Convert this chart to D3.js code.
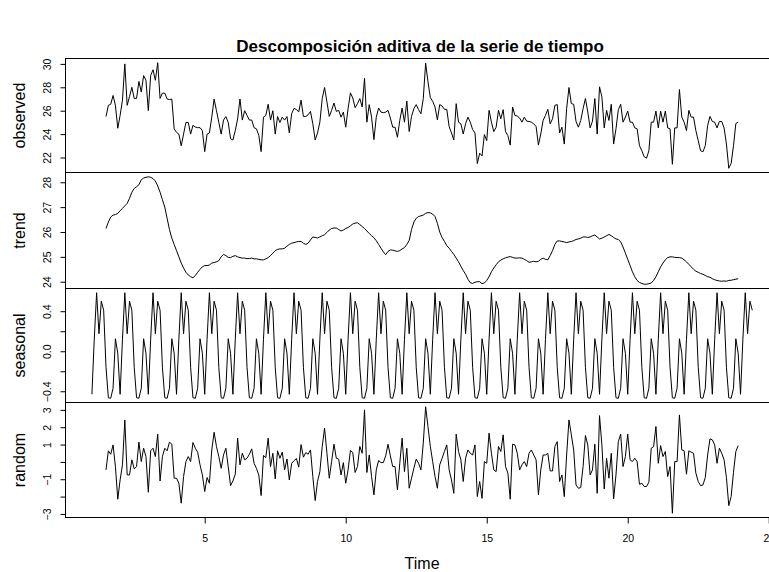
<!DOCTYPE html>
<html>
<head>
<meta charset="utf-8">
<script src="https://cdn.jsdelivr.net/npm/d3@7"></script>
<style>
  html, body { margin: 0; padding: 0; background: #fff; overflow: hidden; }
  svg { display: block; }
  text { font-family: "Liberation Sans", Arial, Helvetica, sans-serif; fill: #000; }
</style>
</head>
<body>
<svg id="chart" width="769" height="572"></svg>
<script>
// Monthly series: starts at time 1, 282 observations (ends at 24 + 5/12).
const seriesStart = 1;
const frequency = 12;
const seriesLength = 282;
// Trend (centred 2x12 moving average), and hence observed/random, start 6 months in.
const componentStart = 1.5;

// Seasonal figure, January..December
const seasonalFigure = [-0.43, 0.12, 0.585, 0.175, 0.50, 0.41, -0.16, -0.465, -0.47, -0.37, 0.125, -0.02];

const observed = [
  25.5, 26.46, 26.55, 27.3, 26.46, 24.5, 25.6, 26.9, 30.0, 26.46, 27.2, 28.0,
  27.05, 27.05, 28.5, 27.6, 29.0, 28.6, 26.0, 29.0, 29.5, 28.6, 30.1, 27.05,
  27.5, 27.5, 27.0, 26.95, 27.0, 24.45, 24.15, 24.0, 23.0, 24.0, 25.0, 25.0,
  24.0, 24.75, 24.6, 24.55, 24.55, 24.3, 22.5, 24.0, 24.1, 25.45, 27.0, 26.0,
  25.0, 24.0, 25.2, 25.5, 25.0, 23.6, 23.5, 24.3, 25.3, 27.0, 25.2, 26.0,
  25.6, 25.2, 25.2, 24.55, 24.45, 23.9, 22.5, 25.45, 25.6, 26.55, 25.2, 26.0,
  24.0, 25.5, 25.0, 25.45, 25.2, 25.5, 24.1, 25.75, 26.2, 26.1, 25.9, 26.9,
  25.51, 25.51, 25.65, 25.94, 24.88, 23.5, 24.1, 25.02, 27.04, 27.98, 26.75, 25.51,
  26.03, 26.66, 25.94, 26.03, 25.45, 25.88, 24.59, 26.17, 27.52, 27.09, 26.26, 26.6,
  27.04, 26.32, 28.76, 25.02, 26.52, 25.45, 23.53, 25.45, 26.23, 25.88, 25.83, 25.88,
  26.03, 25.37, 24.59, 24.59, 23.73, 25.17, 26.23, 25.02, 26.83, 24.22, 25.51, 26.17,
  26.52, 26.09, 25.74, 27.04, 30.06, 28.47, 27.12, 26.8, 26.32, 25.22, 26.52, 26.4,
  26.12, 26.12, 24.65, 24.1, 23.5, 26.6, 25.02, 24.88, 24.01, 24.88, 25.45, 25.02,
  24.39, 24.1, 21.48, 22.37, 22.14, 23.96, 23.44, 26.03, 25.02, 24.22, 24.59, 26.03,
  25.31, 26.09, 24.22, 23.87, 23.06, 26.32, 25.6, 25.54, 25.37, 25.02, 25.45, 25.11,
  25.08, 25.02, 24.88, 24.65, 23.06, 24.01, 25.17, 25.6, 26.12, 24.88, 25.31, 26.46,
  26.52, 24.1, 24.59, 23.15, 26.17, 27.98, 26.61, 26.55, 25.08, 24.59, 25.17, 26.17,
  27.04, 25.89, 24.53, 25.11, 27.04, 24.0, 28.04, 27.18, 24.53, 26.03, 25.17, 26.55,
  23.15, 24.45, 26.09, 26.55, 25.02, 25.45, 25.97, 25.02, 25.02, 24.53, 24.45, 23.01,
  22.58, 22.06, 21.94, 22.58, 25.02, 25.02, 25.97, 24.53, 25.97, 25.02, 25.97, 24.53,
  24.45, 21.42, 24.53, 24.53, 27.81, 25.45, 25.02, 24.3, 26.03, 25.45, 25.45, 24.3,
  23.44, 22.58, 22.49, 23.01, 24.74, 25.51, 25.08, 25.02, 24.53, 25.08, 25.08, 24.53,
  23.15, 21.08, 21.5, 23.0, 24.9, 25.02
];

const trend = [
  26.14, 26.4, 26.6, 26.68, 26.7, 26.75, 26.85, 26.95, 27.05, 27.15, 27.35, 27.6,
  27.75, 27.82, 27.9, 28.1, 28.17, 28.2, 28.22, 28.2, 28.15, 28.05, 27.85, 27.6,
  27.3, 27.0, 26.55, 26.1, 25.75, 25.5, 25.25, 25.0, 24.75, 24.55, 24.38, 24.27,
  24.2, 24.16, 24.25, 24.38, 24.5, 24.6, 24.65, 24.65, 24.67, 24.75, 24.77, 24.8,
  24.85, 25.0, 25.1, 25.05, 24.98, 24.97, 25.02, 25.05, 25.0, 24.97, 24.95, 24.95,
  24.93, 24.93, 24.95, 24.92, 24.92, 24.9, 24.88, 24.88, 24.92, 24.97, 25.05, 25.15,
  25.25, 25.3, 25.32, 25.32, 25.35, 25.43, 25.5, 25.55, 25.57, 25.6, 25.62, 25.62,
  25.55, 25.5, 25.55, 25.68, 25.8, 25.78, 25.76, 25.8, 25.85, 25.89, 25.98, 26.08,
  26.14, 26.16, 26.16, 26.1, 26.04, 26.08, 26.14, 26.18, 26.25, 26.32, 26.36, 26.37,
  26.3, 26.22, 26.14, 26.04, 25.94, 25.85, 25.77, 25.65, 25.5, 25.35, 25.2, 25.09,
  25.22, 25.28, 25.27, 25.24, 25.22, 25.25, 25.32, 25.37, 25.5, 25.66, 26.1, 26.4,
  26.55, 26.62, 26.65, 26.68, 26.75, 26.78, 26.77, 26.72, 26.62, 26.35, 26.0, 25.78,
  25.62, 25.45, 25.35, 25.22, 25.1, 24.95, 24.8, 24.62, 24.45, 24.3, 24.1, 23.96,
  23.93, 23.98, 24.0, 24.0, 23.92, 23.95, 24.05, 24.2, 24.4, 24.55, 24.68, 24.8,
  24.87, 24.92, 24.96, 24.99, 25.01, 24.98, 24.95, 24.95, 24.96, 24.95, 24.9, 24.85,
  24.78, 24.8, 24.82, 24.8, 24.82, 24.9, 24.95, 24.9, 24.88, 25.05, 25.25, 25.5,
  25.64, 25.64, 25.62, 25.6, 25.57, 25.6, 25.62, 25.65, 25.7, 25.72, 25.75, 25.8,
  25.8, 25.78, 25.8, 25.85, 25.88, 25.8, 25.72, 25.75, 25.8, 25.85, 25.9, 25.85,
  25.78, 25.72, 25.7, 25.6, 25.4, 25.15, 24.9, 24.65, 24.4, 24.2, 24.05, 23.97,
  23.93, 23.9, 23.9, 23.92, 23.95, 24.05, 24.2, 24.4, 24.6, 24.75, 24.88, 24.97,
  25.0, 25.0, 24.98, 24.97, 24.97, 24.95, 24.88, 24.8, 24.7, 24.6, 24.5, 24.42,
  24.38, 24.33, 24.3, 24.25, 24.2, 24.18, 24.12, 24.08, 24.05, 24.03, 24.02, 24.03,
  24.02, 24.05, 24.06, 24.08, 24.1, 24.12
];

const random = [
  -0.46, 0.64, 0.44, 0.98, -0.27, -2.15, -1.04, -0.17, 2.42, -0.75, -0.75, 0.12,
  -0.4, -0.27, 1.14, 0.02, 0.79, 0.31, -1.75, 0.64, 0.79, 0.31, 1.6, -1.1,
  0.31, 0.79, 0.64, 1.14, 1.02, -0.94, -0.94, -1.23, -2.38, -0.85, 0.02, 0.31,
  0.02, 1.12, 0.79, 0.56, -0.17, -0.75, -1.71, -0.9, -1.23, 0.69, 1.71, 0.88,
  0.31, -0.37, 0.4, 0.79, -0.27, -1.37, -1.1, -0.71, 1.37, -0.17, 0.5, 0.12,
  0.21, 0.44, 0.75, -0.08, -0.37, -0.75, -1.94, 0.37, 0.25, 1.37, -0.27, 0.5,
  -0.98, 0.64, 0.21, 0.56, -0.46, 0.17, -1.04, -0.08, 0.06, 0.2, -0.3, 1.0,
  0.27, 0.54, 0.44, 0.69, -0.84, -2.23, -1.13, -0.56, 0.89, 1.94, 0.5, -0.94,
  0.02, 1.02, 0.21, 0.16, -0.75, -0.04, -1.23, -0.46, 0.66, 0.54, -0.61, -0.27,
  0.89, 0.5, 3.0, -0.61, 0.4, -0.84, -1.9, -0.46, 0.08, -0.04, -0.04, 0.35,
  1.02, 0.35, -0.27, -0.27, -1.61, -0.08, 1.37, -0.56, 0.79, -1.52, -0.94, -0.36,
  0.16, -0.08, -0.46, 1.08, 3.18, 2.04, 0.89, 0.02, -0.84, -1.52, -0.17, 0.21,
  0.6, 0.98, -0.46, -1.04, -1.81, 1.6, 0.6, 0.12, -1.13, 0.21, 0.69, 0.5,
  0.4, 0.98, -2.0, -1.13, -2.1, 0.02, -0.08, 1.66, 0.5, -0.46, -0.56, 0.89,
  0.6, 1.56, -0.27, -0.65, -2.15, 1.02, 0.98, 0.5, -0.46, -0.17, 0.02, -0.27,
  0.5, 0.69, 0.4, 0.12, -1.9, -0.46, 0.4, 0.4, 0.5, -0.52, -0.52, 0.89,
  1.17, -1.13, -0.75, -2.0, 0.4, 2.42, 1.56, 0.69, -1.33, -1.52, -1.48, -0.27,
  1.52, 0.98, -0.75, -0.46, 1.02, -1.81, 2.67, 0.98, -1.56, 0.21, -0.94, 0.5,
  -2.13, -0.75, 1.17, 1.6, -0.27, 0.31, 1.6, 0.12, 0.02, 0.21, 0.02, -1.29,
  -1.23, -1.42, -1.42, -1.17, 0.79, 0.88, 2.04, -0.08, 0.94, 0.31, 0.6, -0.85,
  -0.27, -2.96, 0.02, 0.02, 2.71, 0.69, 0.64, -0.71, 0.64, 0.56, 0.5, -0.65,
  -1.13, -1.37, -1.33, -0.9, 0.4, 1.33, 1.27, 0.98, -0.08, 0.79, 0.5, 0.12,
  -0.9, -2.52, -2.0, -0.6, 0.6, 0.94
];

const panelNames = ["observed", "trend", "seasonal", "random"];
const xTicks = [5, 10, 15, 20, 25];
const observedTicks = [22, 24, 26, 28, 30];
const trendTicks = [24, 25, 26, 27, 28];
const seasonalTicks = [-0.4, -0.2, 0.0, 0.2, 0.4];
const seasonalLabelled = [-0.4, 0.0, 0.4];
const randomTicks = [-3, -2, -1, 0, 1, 2, 3];
const randomLabelled = [-3, -1, 1, 2, 3];

const titleText = "Descomposición aditiva de la serie de tiempo";
const xLabel = "Time";

// ---- assemble the series as (time, value) pairs ----
const seasonal = d3.range(seriesLength).map(i => seasonalFigure[i % frequency]);
const asPoints = (vals, start) => vals.map((v, i) => ({ t: start + i / frequency, v }));

const panels = [
  { name: panelNames[0], pts: asPoints(observed, componentStart), ticks: observedTicks, labelled: observedTicks, fmt: d3.format("d") },
  { name: panelNames[1], pts: asPoints(trend, componentStart), ticks: trendTicks, labelled: trendTicks, fmt: d3.format("d") },
  { name: panelNames[2], pts: asPoints(seasonal, seriesStart), ticks: seasonalTicks, labelled: seasonalLabelled, fmt: d3.format(".1f") },
  { name: panelNames[3], pts: asPoints(random, componentStart), ticks: randomTicks, labelled: randomLabelled, fmt: d3.format("d") }
];

// ---- layout ----
const svg = d3.select("#chart");
const plotLeft = 65.5, plotRight = 778.7;
const panelEdges = [58.5, 172.5, 288.5, 402.5, 517.5];

const seriesEnd = seriesStart + (seriesLength - 1) / frequency;
const span = seriesEnd - seriesStart;
const x = d3.scaleLinear()
  .domain([seriesStart - 0.04 * span, seriesEnd + 0.04 * span])
  .range([plotLeft, plotRight]);

const fontStack = '"Liberation Sans", Arial, Helvetica, sans-serif';

panels.forEach((p, i) => {
  const top = panelEdges[i], bottom = panelEdges[i + 1];
  const [lo, hi] = d3.extent(p.pts, d => d.v);
  const pad = 0.04 * (hi - lo);
  const y = d3.scaleLinear().domain([lo - pad, hi + pad]).range([bottom, top]);

  const g = svg.append("g");

  // series line
  g.append("path")
    .datum(p.pts)
    .attr("fill", "none")
    .attr("stroke", "#000")
    .attr("stroke-width", 1)
    .attr("stroke-linejoin", "round")
    .attr("d", d3.line().x(d => x(d.t)).y(d => y(d.v)));

  // left axis with rotated labels
  const axis = d3.axisLeft(y)
    .tickValues(p.ticks)
    .tickSize(5)
    .tickFormat(v => p.labelled.some(l => Math.abs(l - v) < 1e-9) ? p.fmt(v).replace("-", "\u2212") : "");
  const ag = g.append("g").attr("transform", `translate(${plotLeft},0)`).call(axis);
  ag.select(".domain").remove();
  ag.selectAll(".tick line").attr("stroke", "#000");
  ag.selectAll(".tick text")
    .attr("transform", "rotate(-90)")
    .attr("x", 0)
    .attr("y", -15)
    .attr("dy", 0)
    .attr("text-anchor", "middle")
    .style("font-family", fontStack)
    .style("font-size", "10.5px");

  // panel box
  g.append("rect")
    .attr("x", plotLeft)
    .attr("y", top)
    .attr("width", plotRight - plotLeft)
    .attr("height", bottom - top)
    .attr("fill", "none")
    .attr("stroke", "#000")
    .attr("stroke-width", 1);

  // panel name
  g.append("text")
    .attr("transform", `translate(25,${(top + bottom) / 2}) rotate(-90)`)
    .attr("text-anchor", "middle")
    .style("font-family", fontStack)
    .style("font-size", "16px")
    .text(p.name);
});

// bottom time axis
const xAxis = d3.axisBottom(x).tickValues(xTicks).tickSize(6).tickFormat(d3.format("d"));
const xg = svg.append("g").attr("transform", `translate(0,${panelEdges[4]})`).call(xAxis);
xg.select(".domain").remove();
xg.selectAll(".tick line").attr("stroke", "#000");
xg.selectAll(".tick text")
  .attr("y", 24.5)
  .attr("dy", 0)
  .style("font-family", fontStack)
  .style("font-size", "10.5px");

const centre = (plotLeft + plotRight) / 2;

svg.append("text")
  .attr("x", centre)
  .attr("y", 569)
  .attr("text-anchor", "middle")
  .style("font-family", fontStack)
  .style("font-size", "16px")
  .text(xLabel);

svg.append("text")
  .attr("x", centre - 2)
  .attr("y", 52)
  .attr("text-anchor", "middle")
  .style("font-family", fontStack)
  .style("font-size", "17px")
  .style("font-weight", "bold")
  .text(titleText);
</script>
</body>
</html>
